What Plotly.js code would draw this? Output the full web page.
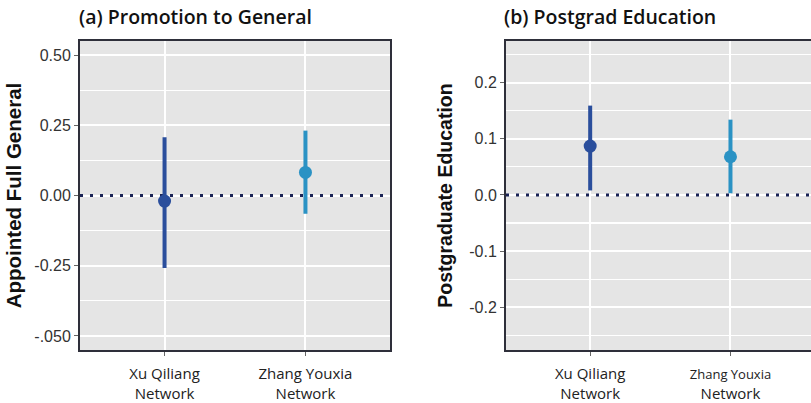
<!DOCTYPE html>
<html><head><meta charset="utf-8">
<script src="https://cdn.plot.ly/plotly-3.0.1.min.js"></script>
<style>html,body{margin:0;padding:0;background:#fff}</style>
</head><body><div id="chart" style="width:811px;height:403px"></div>
<script>
const networks = ["Xu Qiliang Network", "Zhang Youxia Network"];
const tickLabelsA = ["Xu Qiliang<br>Network", "Zhang Youxia<br>Network"];
const tickLabelsB = ["Xu Qiliang<br>Network", "<span style='font-size:13px'>Zhang Youxia</span><br>Network"];
const promoEst = [-0.02, 0.082];
const promoLow = [-0.258, -0.065];
const promoHigh = [0.207, 0.231];
const eduEst = [0.087, 0.068];
const eduLow = [0.008, 0.003];
const eduHigh = [0.159, 0.134];
const promoTickVals = [-0.5, -0.25, 0, 0.25, 0.5];
const promoTickText = ["-.050", "-0.25", "0.00", "0.25", "0.50"];
const promoMinor = [-0.375, -0.125, 0.125, 0.375];
const eduTickVals = [-0.2, -0.1, 0, 0.1, 0.2];
const eduTickText = ["-0.2", "-0.1", "0.0", "0.1", "0.2"];
const eduMinor = [-0.25, -0.15, -0.05, 0.05, 0.15, 0.25];

const colors = ["#2a4e9c", "#2a92c4"];
const xRangeA = [-0.6, 1.6];
const xRangeB = [-0.6, 1.574];
const traces = [];
function addPanel(est, lo, hi, xa, ya) {
  for (let i = 0; i < networks.length; i++) {
    traces.push({
      type: "scatter", mode: "markers",
      x: [networks[i]], y: [est[i]], xaxis: xa, yaxis: ya,
      marker: {color: colors[i], size: 13},
      error_y: {type: "data", symmetric: false, array: [hi[i] - est[i]], arrayminus: [est[i] - lo[i]],
                color: colors[i], thickness: 4, width: 0},
      showlegend: false, hoverinfo: "skip"
    });
  }
}
addPanel(promoEst, promoLow, promoHigh, "x", "y");
addPanel(eduEst, eduLow, eduHigh, "x2", "y2");

const frame = "#2e2f3a";
const tickFont = {family: "Liberation Sans, Arial, sans-serif", size: 16, color: "#333"};
const catFont = {family: "Open Sans, Noto Sans, sans-serif", size: 15, color: "#222"};
function xAxis(domain, range, labels, anchor) {
  return {domain: domain, anchor: anchor, type: "category", range: range,
    tickvals: networks, ticktext: labels, tickfont: catFont,
    ticks: "outside", ticklen: 4, tickcolor: "#666", ticklabelstandoff: 5,
    showgrid: true, gridcolor: "#ffffff", gridwidth: 2,
    showline: true, linecolor: frame, linewidth: 2, mirror: true, zeroline: false, fixedrange: true};
}
const layout = {
  width: 811, height: 403,
  margin: {l: 0, r: 0, t: 0, b: 0},
  paper_bgcolor: "#ffffff", plot_bgcolor: "#e5e5e5",
  xaxis: xAxis([80/811, 390/811], xRangeA, tickLabelsA, "y"),
  xaxis2: xAxis([506/811, 1], xRangeB, tickLabelsB, "y2"),
  yaxis: {domain: [53/403, 362/403], anchor: "x", range: [-0.55, 0.55],
    tickvals: promoTickVals, ticktext: promoTickText, tickfont: tickFont,
    ticks: "outside", ticklen: 4, tickcolor: "#666",
    showgrid: true, gridcolor: "#ffffff", gridwidth: 2, zeroline: false,
    minor: {tickvals: promoMinor, showgrid: true, gridcolor: "#ffffff", gridwidth: 1.2},
    showline: true, linecolor: frame, linewidth: 2, mirror: true,
    title: {text: "<b>Appointed Full General</b>", standoff: 7,
      font: {family: "Liberation Sans, Arial, sans-serif", size: 20.5, color: "#111"}}},
  yaxis2: {domain: [53/403, 362/403], anchor: "x2", range: [-0.276, 0.274],
    tickvals: eduTickVals, ticktext: eduTickText, tickfont: tickFont,
    ticks: "outside", ticklen: 4, tickcolor: "#666",
    showgrid: true, gridcolor: "#ffffff", gridwidth: 2, zeroline: false,
    minor: {tickvals: eduMinor, showgrid: true, gridcolor: "#ffffff", gridwidth: 1.2},
    showline: true, linecolor: frame, linewidth: 2, mirror: false,
    title: {text: "<b>Postgraduate Education</b>", standoff: 11,
      font: {family: "Liberation Sans, Arial, sans-serif", size: 19.5, color: "#111"}}},
  shapes: [
    {type: "line", xref: "x", yref: "y", x0: xRangeA[0], x1: xRangeA[1], y0: 0, y1: 0, layer: "between",
     line: {color: "#1b2456", width: 3, dash: "3px,7px"}},
    {type: "line", xref: "x2", yref: "y2", x0: xRangeB[0], x1: xRangeB[1], y0: 0, y1: 0, layer: "between",
     line: {color: "#1b2456", width: 3, dash: "3px,7px"}}
  ],
  annotations: [
    {text: "(a) Promotion to General", xref: "paper", yref: "paper", x: 77/811, y: 1 - 17/403,
     xanchor: "left", yanchor: "middle", showarrow: false,
     font: {family: "Open Sans, Noto Sans, sans-serif", size: 19.5, color: "#111", weight: 600}},
    {text: "(b) Postgrad Education", xref: "paper", yref: "paper", x: 502/811, y: 1 - 17/403,
     xanchor: "left", yanchor: "middle", showarrow: false,
     font: {family: "Open Sans, Noto Sans, sans-serif", size: 19.5, color: "#111", weight: 600}}
  ]
};
Plotly.newPlot("chart", traces, layout, {displayModeBar: false, staticPlot: true});
</script>
</body></html>
